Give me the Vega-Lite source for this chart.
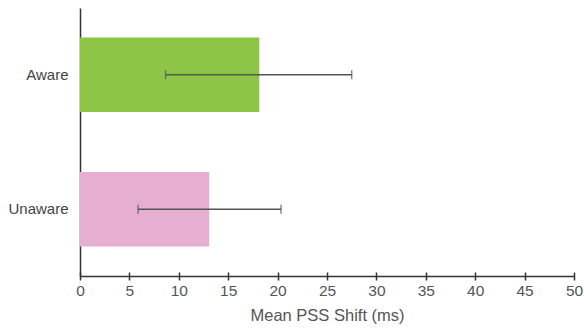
{
  "$schema": "https://vega.github.io/schema/vega-lite/v6.json",
  "width": 494,
  "height": 268,
  "autosize": {"type": "none"},
  "padding": {"left": 80, "top": 8, "right": 10, "bottom": 54},
  "background": "white",
  "config": {
    "view": {"stroke": null},
    "font": "Liberation Sans"
  },
  "data": {
    "values": [
      {"group": "Aware", "mean": 18.15, "lo": 8.66, "hi": 27.5},
      {"group": "Unaware", "mean": 13.08, "lo": 5.88, "hi": 20.35}
    ]
  },
  "encoding": {
    "y": {
      "field": "group",
      "type": "nominal",
      "sort": ["Aware", "Unaware"],
      "scale": {"paddingInner": 0.446, "paddingOuter": 0.219},
      "axis": {
        "title": null,
        "ticks": false,
        "domain": true,
        "domainColor": "#333333",
        "domainWidth": 1.5,
        "labelFontSize": 15,
        "labelColor": "#444444",
        "labelPadding": 12
      }
    }
  },
  "layer": [
    {
      "mark": {"type": "bar"},
      "encoding": {
        "x": {
          "field": "mean",
          "type": "quantitative",
          "scale": {"domain": [0, 50], "nice": false},
          "axis": {
            "orient": "bottom",
            "domain": true,
            "domainColor": "#333333",
            "domainWidth": 1.5,
            "ticks": false,
            "labels": false,
            "grid": false,
            "title": null
          }
        },
        "color": {
          "field": "group",
          "type": "nominal",
          "scale": {"domain": ["Aware", "Unaware"], "range": ["#8dc547", "#e6aed0"]},
          "legend": null
        }
      }
    },
    {
      "mark": {"type": "rule", "color": "#555555", "strokeWidth": 1.5},
      "encoding": {
        "x": {
          "field": "lo",
          "type": "quantitative",
          "axis": {
            "orient": "bottom",
            "offset": -4,
            "domain": false,
            "ticks": true,
            "tickSize": 8,
            "tickWidth": 1.5,
            "tickColor": "#333333",
            "values": [0, 5, 10, 15, 20, 25, 30, 35, 40, 45, 50],
            "labelFontSize": 15.5,
            "labelColor": "#555555",
            "labelPadding": 3,
            "labelFlush": false,
            "grid": false,
            "title": "Mean PSS Shift (ms)",
            "titleFontSize": 16.5,
            "titleFontWeight": "normal",
            "titleColor": "#555555",
            "titlePadding": 9
          }
        },
        "x2": {"field": "hi"}
      }
    },
    {
      "mark": {"type": "tick", "color": "#555555", "thickness": 1.5, "size": 9},
      "encoding": {"x": {"field": "lo", "type": "quantitative", "axis": null}}
    },
    {
      "mark": {"type": "tick", "color": "#555555", "thickness": 1.5, "size": 9},
      "encoding": {"x": {"field": "hi", "type": "quantitative", "axis": null}}
    }
  ],
  "resolve": {"axis": {"x": "independent"}}
}
